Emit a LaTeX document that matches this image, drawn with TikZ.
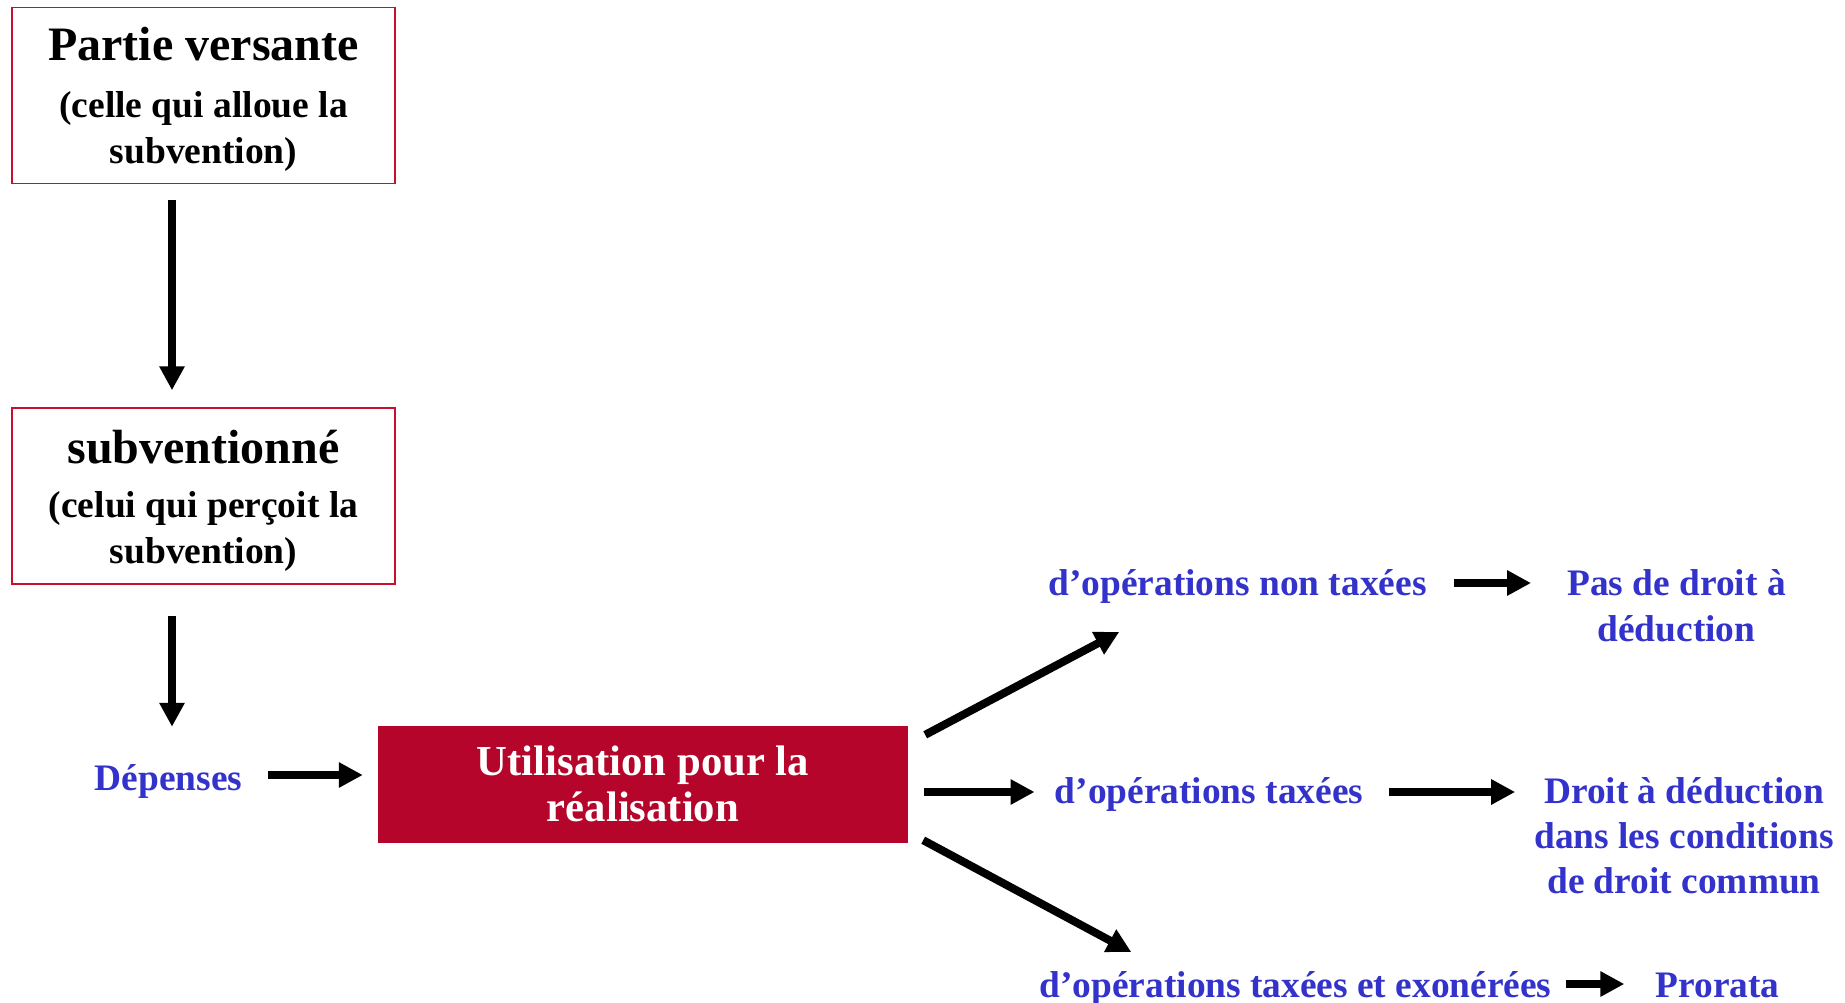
\documentclass[tikz,border=0pt]{standalone}
\usepackage{fontspec}
\setmainfont{Liberation Serif}
\usetikzlibrary{arrows.meta}
\definecolor{boxred}{RGB}{200,16,46}
\definecolor{fillred}{RGB}{181,5,43}
\definecolor{txtblue}{RGB}{51,51,204}
\begin{document}
\begin{tikzpicture}[x=1pt,y=-1pt,
  wbox/.style={draw=boxred, line width=1.5pt, minimum width=383pt, minimum height=176pt, inner sep=0pt},
  ttl/.style={font=\fontsize{48}{55}\selectfont\bfseries, inner sep=0pt, anchor=base},
  subt/.style={font=\fontsize{37.5}{46}\selectfont\bfseries, align=center, inner sep=0pt, anchor=base},
  rbox/.style={fill=fillred, draw=none, minimum width=530pt, minimum height=117pt, inner sep=0pt},
  wtxt/.style={text=white, font=\fontsize{42.7}{46}\selectfont\bfseries, align=center, inner sep=0pt, anchor=base},
  bltxt/.style={text=txtblue, font=\fontsize{37.4}{45}\selectfont\bfseries, align=center, inner sep=0pt, anchor=base},
  arr/.style={line width=8pt, -{Triangle[length=24pt,width=24pt]}}
]
\useasboundingbox (0,0) rectangle (1845,1002);
\fill[white] (0,0) rectangle (1845,1002);

% boxes (multi-line nodes: base anchor = baseline of last line)
\node[wbox] (box1) at (203.5,95.5) {};
\node[ttl] (t1) at (203.5,60) {Partie versante};
\node[subt] (s1) at (203.5,163) {(celle qui alloue la\\subvention)};

\node[wbox] (box2) at (203.5,496) {};
\node[ttl] (t2) at (203.5,463) {subventionné};
\node[subt] (s2) at (203.5,563) {(celui qui perçoit la\\subvention)};

\node[rbox] (red) at (643,784.5) {};
\node[wtxt] (rt) at (643,821) {Utilisation pour la\\réalisation};

% blue texts
\node[bltxt] (dep) at (168.5,790) {Dépenses};
\node[bltxt] (nt) at (1237.5,595) {d’opérations non taxées};
\node[bltxt] (pas) at (1676.5,641) {Pas de droit à\\[1pt]déduction};
\node[bltxt] (tx) at (1209,803) {d’opérations taxées};
\node[bltxt] (droit) at (1684,893) {Droit à déduction\\dans les conditions\\de droit commun};
\node[bltxt] (te) at (1295.5,997) {d’opérations taxées et exonérées};
\node[bltxt] (pro) at (1717.5,997) {Prorata};

% arrows
\draw[arr] ([xshift=-31.5pt,yshift=-16pt]box1.south) -- ([xshift=-31.5pt,yshift=17pt]box2.north);
\draw[arr] ([xshift=-31.5pt,yshift=-31pt]box2.south) -- ([xshift=-31.5pt,yshift=-142pt]box2.south);
\draw[arr] ([shift={(26pt,15pt)}]dep.base east) -- ([shift={(-15pt,9.5pt)}]red.west);

\draw[arr] ([shift={(17pt,-9pt)}]red.north east) -- ([shift={(71pt,-37pt)}]nt.base west);
\draw[arr] ([shift={(16pt,-7.5pt)}]red.east) -- ([shift={(-20pt,11pt)}]tx.base west);
\draw[arr] ([shift={(15pt,3pt)}]red.south east) -- ([shift={(92pt,45pt)}]te.base west);

\draw[arr, shorten >=36pt] ([shift={(27pt,12pt)}]nt.base east) coordinate (a1) -- (a1 -| pas.west);
\draw[arr, shorten >=19pt] ([shift={(26pt,11pt)}]tx.base east) coordinate (a2) -- (a2 -| droit.west);
\draw[arr] ([shift={(14pt,13pt)}]te.base east) -- ([shift={(-31pt,13pt)}]pro.base west);
\end{tikzpicture}
\end{document}
